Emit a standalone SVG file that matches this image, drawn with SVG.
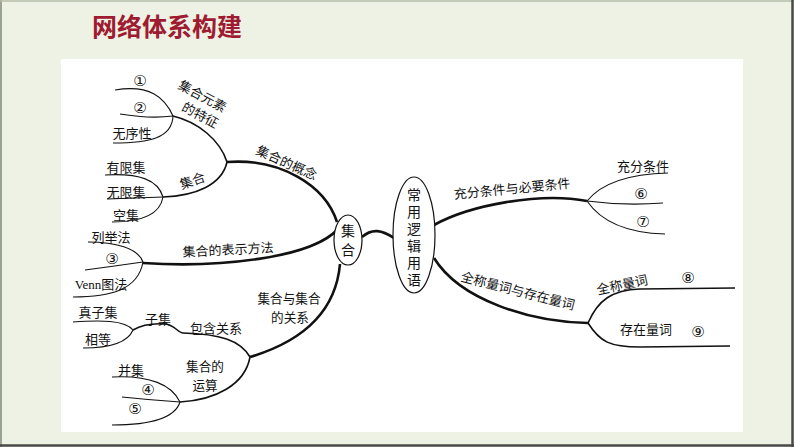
<svg xmlns="http://www.w3.org/2000/svg" width="794" height="447" viewBox="0 0 794 447">
<style>
.t{font-family:"Noto Sans CJK SC","Noto Sans",sans-serif;font-size:13px;fill:#111;text-anchor:middle;dominant-baseline:central}
.t2{font-size:12.6px}
.n{font-family:"DejaVu Sans","Noto Sans CJK SC",sans-serif;font-size:15px;fill:#111;text-anchor:middle;dominant-baseline:central}
.e{font-family:"Noto Sans CJK SC",sans-serif;font-size:14px;fill:#111;writing-mode:vertical-rl;text-anchor:start}
.thin{fill:none;stroke:#111;stroke-width:1.1}
.mid{fill:none;stroke:#111;stroke-width:1.6}
.thick{fill:none;stroke:#111;stroke-width:2.6}
.node{fill:#fff;stroke:#111;stroke-width:1.2}
</style>
<rect x="0" y="0" width="794" height="447" fill="#edf2e4"/>
<line x1="1" y1="0" x2="1" y2="447" stroke="#9aa392" stroke-width="2"/>
<line x1="0" y1="1" x2="794" y2="1" stroke="#b4bcaa" stroke-width="1.5"/>
<line x1="792.5" y1="0" x2="792.5" y2="447" stroke="#4a4a4a" stroke-width="2.5"/>
<line x1="0" y1="445.5" x2="794" y2="445.5" stroke="#4a4a4a" stroke-width="2.5"/>
<rect x="61" y="59" width="682" height="373" fill="#fff"/>
<text x="167" y="24.5" style="font-family:'Noto Sans CJK SC',sans-serif;font-size:25px;font-weight:bold;fill:#9e1b32;text-anchor:middle;dominant-baseline:central">网络体系构建</text>

<g id="connectors">
<path class="thin" d="M115,90 C150,84 165,98 173,116"/>
<path class="thin" d="M120,114 Q150,119 173,116"/>
<path class="thin" d="M113,143 C150,143 172,138 173,116"/>
<path class="mid" d="M173,116 C198,122 220,140 227,162"/>
<path class="mid" d="M227,162 C222,185 195,196 163,197"/>
<path class="thin" d="M105,175 C140,173 158,180 163,197"/>
<path class="thin" d="M107,199 Q135,198 163,197"/>
<path class="thin" d="M112,222 C140,222 160,215 163,197"/>
<path class="thick" d="M227,162 C280,158 325,185 337,222"/>
<path class="thin" d="M88,242 C115,242 138,248 143,262"/>
<path class="thin" d="M85,270 Q115,266 143,262"/>
<path class="thin" d="M73,297 C110,297 138,290 143,262"/>
<path class="thick" d="M143,263 C220,268 310,258 337,230"/>
<path class="thick" d="M340,264 C335,320 290,345 250,357"/>
<path class="mid" d="M250,357 C240,340 220,334 183,333 C178,333 175,325 165,324 C150,323 140,326 133,330"/>
<path class="thin" d="M73,322 C100,320 125,320 133,330"/>
<path class="thin" d="M83,348 C110,348 128,342 133,330"/>
<path class="mid" d="M250,357 C245,385 215,400 180,402"/>
<path class="thin" d="M112,377 C150,375 172,385 180,402"/>
<path class="thin" d="M122,397 Q150,400 180,402"/>
<path class="thin" d="M112,425 C150,425 175,418 180,402"/>
<path class="thick" d="M362,237 C372,228 382,230 394,238"/>
<path class="thick" d="M434,225 C470,205 540,192 587,201"/>
<path class="thin" d="M587,201 C600,185 625,174 668,173"/>
<path class="thin" d="M587,201 Q625,206 663,203"/>
<path class="thin" d="M587,201 C600,220 625,233 665,234"/>
<path class="thick" d="M434,258 C460,300 530,322 588,323"/>
<path class="mid" d="M588,323 C598,300 612,290 640,289 L735,288"/>
<path class="mid" d="M588,323 C600,342 610,347 640,347 L730,346"/>
</g>

<g id="n-jihe">
<ellipse class="node" cx="348" cy="240" rx="14" ry="25"/>
<text class="e" x="348" y="224" letter-spacing="5">集合</text>
</g>
<g id="n-changyong">
<ellipse class="node" cx="414" cy="235" rx="21" ry="58"/>
<text class="e" x="414" y="188" letter-spacing="3">常用逻辑用语</text>
</g>

<g id="l-gainian"><text class="t" transform="translate(287,162) rotate(24)">集合的概念</text></g>
<g id="l-tezheng">
<text class="t" transform="translate(203,95) rotate(28)"><tspan x="0" y="0">集合元素</tspan><tspan x="7" y="17.7">的特征</tspan></text>
</g>
<g id="n-1"><text class="n" x="140" y="81">①</text></g>
<g id="n-2"><text class="n" x="140" y="108">②</text></g>
<g id="n-wuxu"><text class="t" x="132" y="132">无序性</text></g>
<g id="l-jihe"><text class="t" transform="translate(192,180) rotate(-20)">集合</text></g>
<g id="n-youxian"><text class="t" x="126" y="166">有限集</text></g>
<g id="n-wuxian"><text class="t" x="126" y="191">无限集</text></g>
<g id="n-kong"><text class="t" x="126" y="214">空集</text></g>
<g id="l-biaoshi"><text class="t" transform="translate(228,249) rotate(-3)">集合的表示方法</text></g>
<g id="n-lieju"><text class="t" x="111" y="236">列举法</text></g>
<g id="n-3"><text class="n" x="112" y="259">③</text></g>
<g id="n-venn"><text class="t" x="101" y="284" style="font-family:'Liberation Serif','Noto Sans CJK SC',serif">Venn图法</text></g>
<g id="l-guanxi">
<text class="t t2"><tspan x="289" y="297">集合与集合</tspan><tspan x="290" y="315.5">的关系</tspan></text>
</g>
<g id="l-baohan"><text class="t" x="216" y="327">包含关系</text></g>
<g id="l-ziji"><text class="t" x="158" y="318">子集</text></g>
<g id="n-zhenziji"><text class="t" x="98" y="311">真子集</text></g>
<g id="n-xiangdeng"><text class="t" x="98" y="338">相等</text></g>
<g id="l-yunsuan">
<text class="t t2"><tspan x="205" y="365">集合的</tspan><tspan x="205" y="383.5">运算</tspan></text>
</g>
<g id="n-bingji"><text class="t" x="131" y="369">并集</text></g>
<g id="n-4"><text class="n" x="148" y="390">④</text></g>
<g id="n-5"><text class="n" x="135" y="409">⑤</text></g>

<g id="l-chongyao"><text class="t" transform="translate(512,188) rotate(-5.5)">充分条件与必要条件</text></g>
<g id="n-chongfen"><text class="t" x="643" y="165">充分条件</text></g>
<g id="n-6"><text class="n" x="641" y="194">⑥</text></g>
<g id="n-7"><text class="n" x="643" y="222">⑦</text></g>
<g id="l-liangci"><text class="t" transform="translate(518,290) rotate(14.5)">全称量词与存在量词</text></g>
<g id="n-quancheng"><text class="t" transform="translate(622,284) rotate(-12)">全称量词</text></g>
<g id="n-8"><text class="n" x="688" y="278">⑧</text></g>
<g id="n-cunzai"><text class="t" x="646" y="328">存在量词</text></g>
<g id="n-9"><text class="n" x="698" y="332">⑨</text></g>
</svg>
